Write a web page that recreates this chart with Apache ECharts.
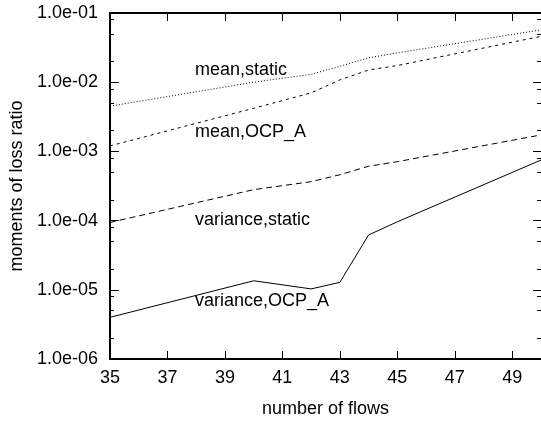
<!DOCTYPE html>
<html>
<head>
<meta charset="utf-8">
<script src="https://cdn.jsdelivr.net/npm/echarts@6/dist/echarts.min.js"></script>
<style>
  html, body { margin: 0; padding: 0; background: #fff; }
  #lossChart { width: 541px; height: 431px; }
</style>
</head>
<body>
<div id="lossChart"></div>
<script>
// number of flows where the curves have points
const flows = [35, 40, 42, 43, 44, 45, 50]
const meanStatic = [4.5e-3, 1.0e-2, 1.3e-2, 1.7e-2, 2.25e-2, 2.65e-2, 5.7e-2]
const meanOcpA = [1.2e-3, 4.2e-3, 7.0e-3, 1.08e-2, 1.5e-2, 1.74e-2, 4.6e-2]
const varStatic = [9.4e-5, 2.8e-4, 3.65e-4, 4.6e-4, 6.1e-4, 7.1e-4, 1.73e-3]
const varOcpA = [4.0e-6, 1.35e-5, 1.03e-5, 1.28e-5, 6.2e-5, 9.6e-5, 7.5e-4]

const xTicks = [35, 37, 39, 41, 43, 45, 47, 49]
const yTicks = [1e-6, 1e-5, 1e-4, 1e-3, 1e-2, 1e-1]
const yTickLabels = ['1.0e-06', '1.0e-05', '1.0e-04', '1.0e-03', '1.0e-02', '1.0e-01']
// minor ticks at 2, 5 and 8 of each decade (exponent space)
const minorMantissa = [2, 5, 8]

const font = 'Liberation Sans, Arial, Helvetica, sans-serif'
const fs = 18

let minorTicks = []
for (let e = -6; e < -1; e++) {
  minorMantissa.forEach(m => minorTicks.push(e + Math.log10(m)))
}

function pairs(ys) {
  return flows.map((x, i) => [x, ys[i]])
}

function yLabel(v) {
  for (let i = 0; i < yTicks.length; i++) {
    if (Math.abs(Math.log10(v) - Math.log10(yTicks[i])) < 1e-6) return yTickLabels[i]
  }
  return ''
}

let myChart = echarts.init(document.getElementById('lossChart'), null, { renderer: 'canvas' })

const axisLine = { show: true, lineStyle: { color: '#000', width: 2 } }

let options = {
  animation: false,
  grid: { left: 109, right: -1, top: 13, bottom: 72 },
  xAxis: [
    {
      type: 'value', min: 35, max: 50, position: 'bottom',
      axisLine: axisLine,
      axisTick: { inside: true, length: 8, customValues: xTicks, lineStyle: { color: '#000', width: 1 } },
      axisLabel: { customValues: xTicks, color: '#000', fontSize: fs, fontFamily: font, margin: 10 },
      splitLine: { show: false },
      name: 'number of flows', nameLocation: 'middle', nameGap: 41,
      nameTextStyle: { color: '#000', fontSize: fs, fontFamily: font }
    },
    {
      type: 'value', min: 35, max: 50, position: 'top',
      axisLine: axisLine,
      axisTick: { inside: true, length: 8, customValues: xTicks, lineStyle: { color: '#000', width: 1 } },
      axisLabel: { show: false },
      splitLine: { show: false }
    }
  ],
  yAxis: [
    {
      type: 'log', min: 1e-6, max: 1e-1, position: 'left', logBase: 10,
      axisLine: axisLine,
      axisTick: { inside: true, length: 9, lineStyle: { color: '#000', width: 1 } },
      axisLabel: { color: '#000', fontSize: fs, fontFamily: font, margin: 12, formatter: yLabel },
      splitLine: { show: false },
      name: 'moments of loss ratio', nameLocation: 'middle', nameGap: 83, nameRotate: 90,
      nameTextStyle: { color: '#000', fontSize: fs, fontFamily: font }
    },
    {
      type: 'log', min: 1e-6, max: 1e-1, position: 'right', logBase: 10,
      axisLine: { show: false },
      axisTick: { inside: true, length: 8, lineStyle: { color: '#000', width: 1 } },
      axisLabel: { show: false },
      splitLine: { show: false }
    },
    {
      type: 'value', min: -6, max: -1, position: 'left',
      axisLine: { show: false },
      axisTick: { inside: true, length: 4, customValues: minorTicks, lineStyle: { color: '#000', width: 1 } },
      axisLabel: { show: false },
      splitLine: { show: false }
    },
    {
      type: 'value', min: -6, max: -1, position: 'right',
      axisLine: { show: false },
      axisTick: { inside: true, length: 4, customValues: minorTicks, lineStyle: { color: '#000', width: 1 } },
      axisLabel: { show: false },
      splitLine: { show: false }
    }
  ],
  series: [
    {
      name: 'mean,static', type: 'line', data: pairs(meanStatic), showSymbol: false, symbol: 'none',
      lineStyle: { color: '#000', width: 1, type: [1, 2] }
    },
    {
      name: 'mean,OCP_A', type: 'line', data: pairs(meanOcpA), showSymbol: false, symbol: 'none',
      lineStyle: { color: '#000', width: 1, type: [3, 4] }
    },
    {
      name: 'variance,static', type: 'line', data: pairs(varStatic), showSymbol: false, symbol: 'none',
      lineStyle: { color: '#000', width: 1, type: [6, 4] }
    },
    {
      name: 'variance,OCP_A', type: 'line', data: pairs(varOcpA), showSymbol: false, symbol: 'none',
      lineStyle: { color: '#000', width: 1 }
    }
  ],
  graphic: [
    { type: 'text', left: 195, top: 61, style: { text: 'mean,static', font: fs + 'px ' + font, fill: '#000' } },
    { type: 'text', left: 195, top: 123, style: { text: 'mean,OCP_A', font: fs + 'px ' + font, fill: '#000' } },
    { type: 'text', left: 195, top: 211, style: { text: 'variance,static', font: fs + 'px ' + font, fill: '#000' } },
    { type: 'text', left: 195, top: 292, style: { text: 'variance,OCP_A', font: fs + 'px ' + font, fill: '#000' } }
  ]
}
myChart.setOption(options)
</script>
</body>
</html>
